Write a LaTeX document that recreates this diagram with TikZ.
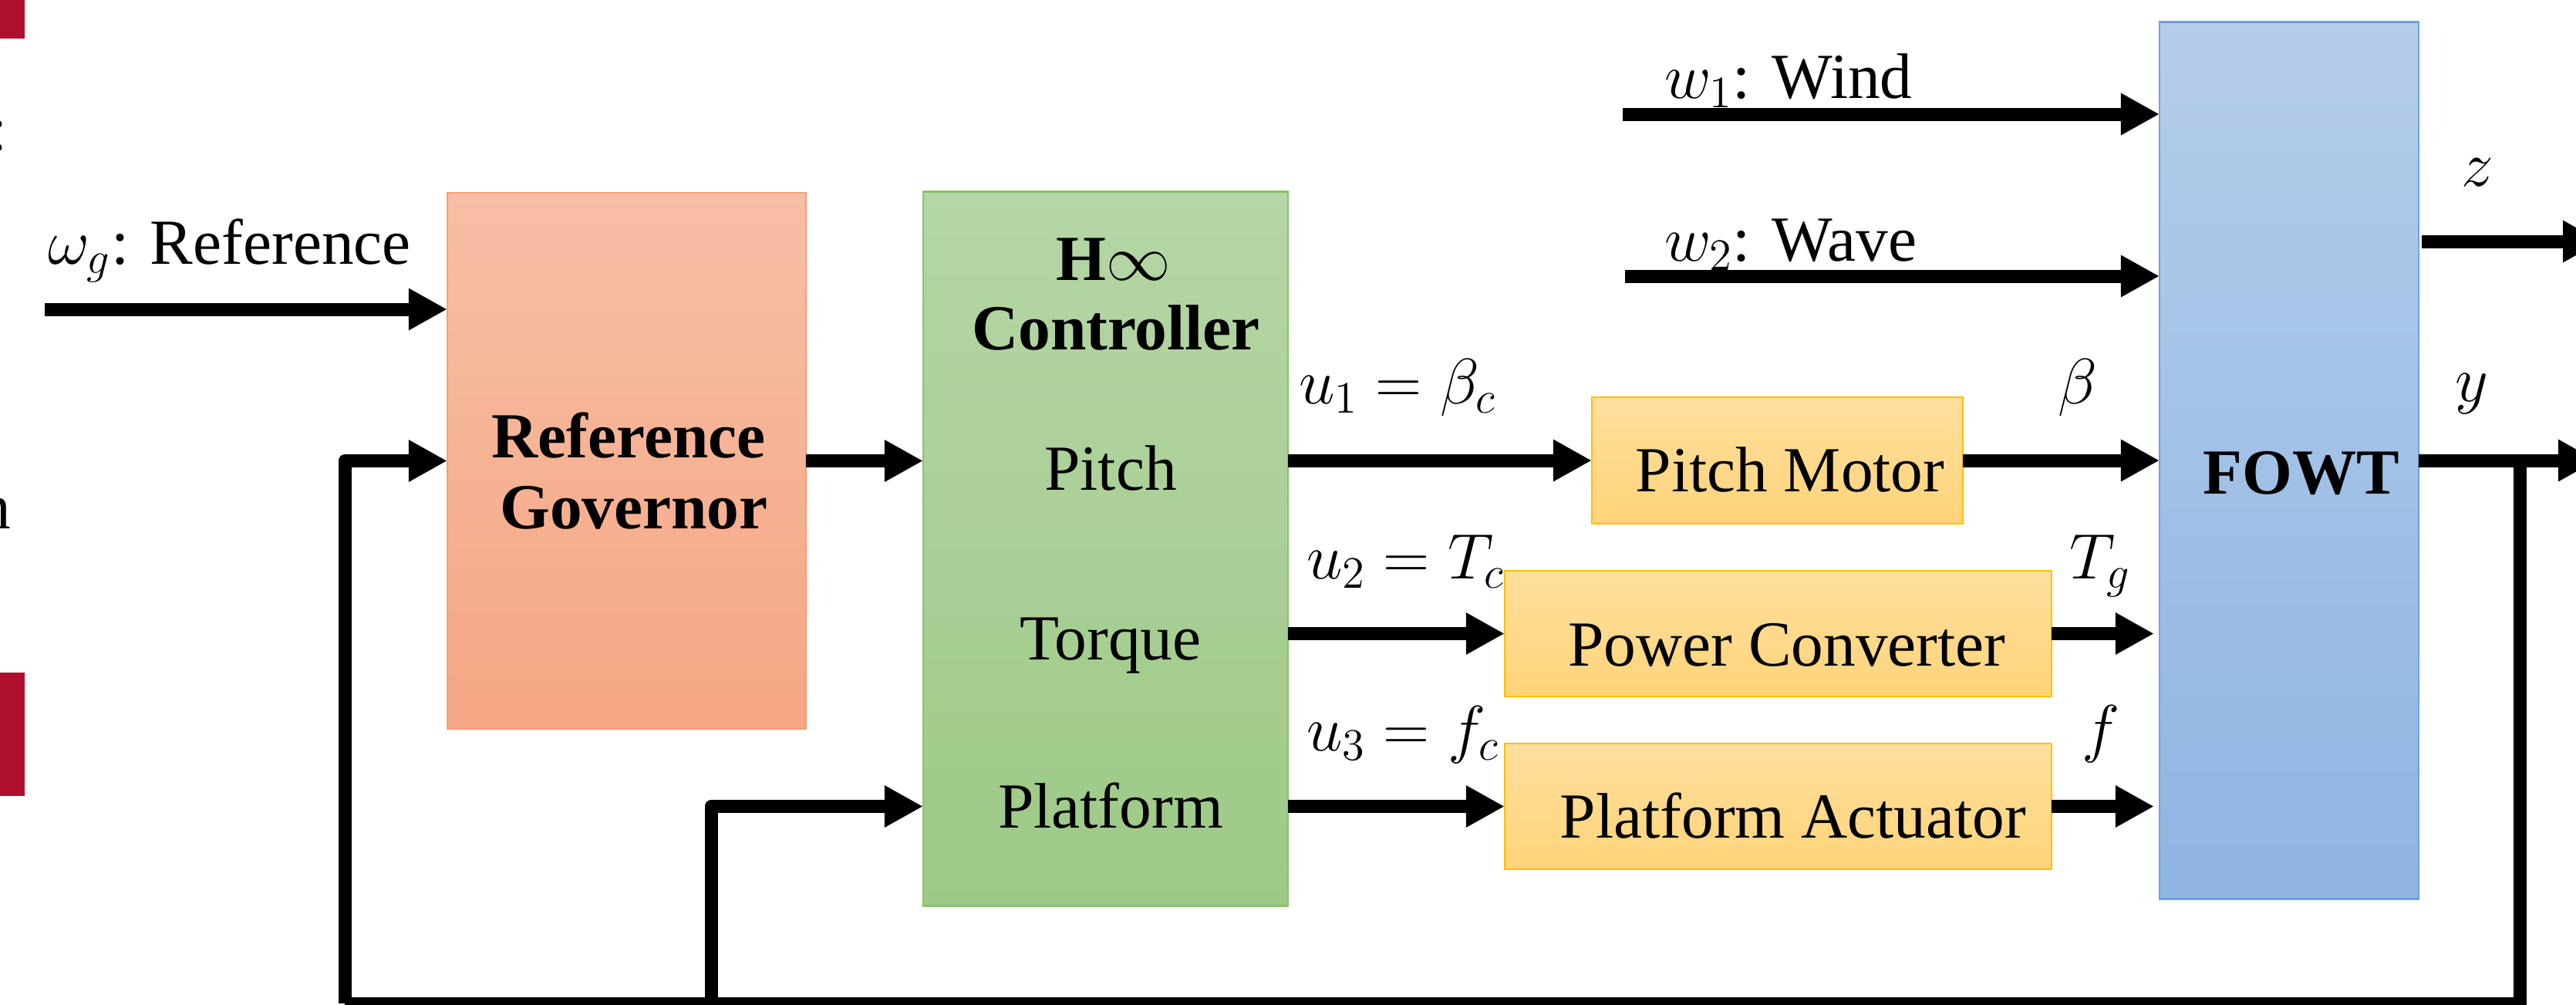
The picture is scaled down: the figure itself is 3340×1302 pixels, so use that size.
\RequirePackage{fix-cm}
\documentclass[tikz,border=0pt]{standalone}
\usepackage{fontspec}
\setmainfont{Liberation Serif}
\usetikzlibrary{arrows.meta}
\definecolor{rgtop}{HTML}{F7BFA5}
\definecolor{rgbot}{HTML}{F5A683}
\definecolor{rgline}{HTML}{F4A070}
\definecolor{cttop}{HTML}{B5D6A6}
\definecolor{ctbot}{HTML}{9DC985}
\definecolor{ctline}{HTML}{8CC16B}
\definecolor{yltop}{HTML}{FFDF9E}
\definecolor{ylbot}{HTML}{FFD479}
\definecolor{ylline}{HTML}{FFC000}
\definecolor{fwtop}{HTML}{B4CDE9}
\definecolor{fwbot}{HTML}{8FB5E3}
\definecolor{fwline}{HTML}{6FA0DC}
\definecolor{fragred}{HTML}{B01030}
\begin{document}
\begin{tikzpicture}[x=0.01cm,y=-0.01cm,
  every node/.style={font=\fontsize{23.7}{28}\selectfont, inner sep=0pt, outer sep=0pt},
  lbl/.style={anchor=base},
  lblw/.style={anchor=base west},
  blockbox/.style={line width=0.025cm, inner sep=0pt},
  rgbox/.style={blockbox, draw=rgline, top color=rgtop, bottom color=rgbot},
  ctbox/.style={blockbox, draw=ctline, top color=cttop, bottom color=ctbot},
  ylbox/.style={blockbox, draw=ylline, top color=yltop, bottom color=ylbot},
  fwbox/.style={blockbox, draw=fwline, top color=fwtop, bottom color=fwbot},
  arr/.style={line width=0.17cm, -{Triangle[length=0.5cm,width=0.51cm]}},
  fbline/.style={line width=0.17cm, line join=miter}]
\useasboundingbox (0,0) rectangle (3340,1302);

% cropped fragments on the left edge
\begin{scope}
\clip (0,0) rectangle (60,1302);
\fill[fragred] (0,0) rectangle (32,50);
\fill[fragred] (0,872) rectangle (32,1032);
\node[anchor=base east] (fragA) at (10,195) {:};
\node[anchor=base east] (fragB) at (14,685) {n};
\end{scope}

% blocks
\node[rgbox, minimum width=4.65cm, minimum height=6.95cm] (RG) at (812.5,597.5) {};
\node[ctbox, minimum width=4.73cm, minimum height=9.25cm] (CT) at (1433.5,711.5) {};
\node[ylbox, minimum width=4.81cm, minimum height=1.64cm] (PM) at (2304.5,597) {};
\node[ylbox, minimum width=7.09cm, minimum height=1.63cm] (PC) at (2305.5,821.5) {};
\node[ylbox, minimum width=7.09cm, minimum height=1.63cm] (PA) at (2305.5,1045.5) {};
\node[fwbox, minimum width=3.36cm, minimum height=11.36cm] (FW) at (2968,597) {};

% block texts
\node[lbl] (rgt1) at (815,593) {\bfseries Reference};
\node[lbl] (rgt2) at (822,685) {\bfseries Governor};
\node[lbl] (ctt1) at (1444,363) {\bfseries H$\infty$};
\node[lbl] (ctt2) at (1447,453) {\bfseries Controller};
\node[lbl] (ctt3) at (1440,635) {Pitch};
\node[lbl] (ctt4) at (1440,855) {Torque};
\node[lbl] (ctt5) at (1440,1073) {Platform};
\node[lbl] (pmt) at (2321,637) {Pitch Motor};
\node[lbl] (pct) at (2317,863) {Power Converter};
\node[lbl] (pat) at (2325,1086) {Platform Actuator};
\node[lbl] (fwt) at (2984,640) {\bfseries FOWT};

% signal labels
\node[lblw] (lwg) at (62,342) {$\omega_g$: Reference};
\node[lblw] (lw1) at (2158,127) {$w_1$: Wind};
\node[lblw] (lw2) at (2158,338) {$w_2$: Wave};
\node[lblw] (lu1) at (1684,523) {$u_1=\beta_c$};
\node[lblw] (lu2) at (1694,750) {$u_2=T_c$};
\node[lblw] (lu3) at (1694,973) {$u_3=f_c$};
\node[lbl] (lbeta) at (2694,523) {$\beta$};
\node[lbl] (lTg) at (2723,750) {$T_g$};
\node[lbl] (lf) at (2724,972) {$f$};
\node[lbl] (lz) at (3212,241) {$z$};
\node[lbl] (ly) at (3205,520) {$y$};

% free ends
\coordinate (wgs) at (58,401);
\coordinate (w1s) at (2104,148);
\coordinate (w2s) at (2107,358);
\coordinate (zs) at (3140,313);
\coordinate (ze) at (3373,313);
\coordinate (ye) at (3367,597);
\coordinate (yj) at (3267,597);
\coordinate (fb1) at (447,1301);
\coordinate (fb2) at (922,1301);

% connectors
\draw[arr] (wgs) -- (wgs -| RG.west);
\draw[arr] (RG.east) -- (RG.east -| CT.west);
\draw[arr] (CT.east |- PM.west) -- (PM.west);
\draw[arr] (CT.east |- PC.west) -- (PC.west);
\draw[arr] (CT.east |- PA.west) -- (PA.west);
\draw[arr] (PM.east) -- (PM.east -| FW.west);
\draw[arr, shorten >=0.07cm] (PC.east) -- (PC.east -| FW.west);
\draw[arr, shorten >=0.07cm] (PA.east) -- (PA.east -| FW.west);
\draw[arr] (w1s) -- (w1s -| FW.west);
\draw[arr] (w2s) -- (w2s -| FW.west);
\draw[arr] (zs) -- (ze);
\draw[arr] (FW.east) -- (ye);
\draw[fbline] (yj) |- (fb1);
\draw[arr, line join=round] (fb1) -- (fb1 |- RG.west) -- (RG.west);
\draw[arr, line join=round] (fb2) -- (fb2 |- PA.west) -- (CT.west |- PA.west);
\end{tikzpicture}
\end{document}
